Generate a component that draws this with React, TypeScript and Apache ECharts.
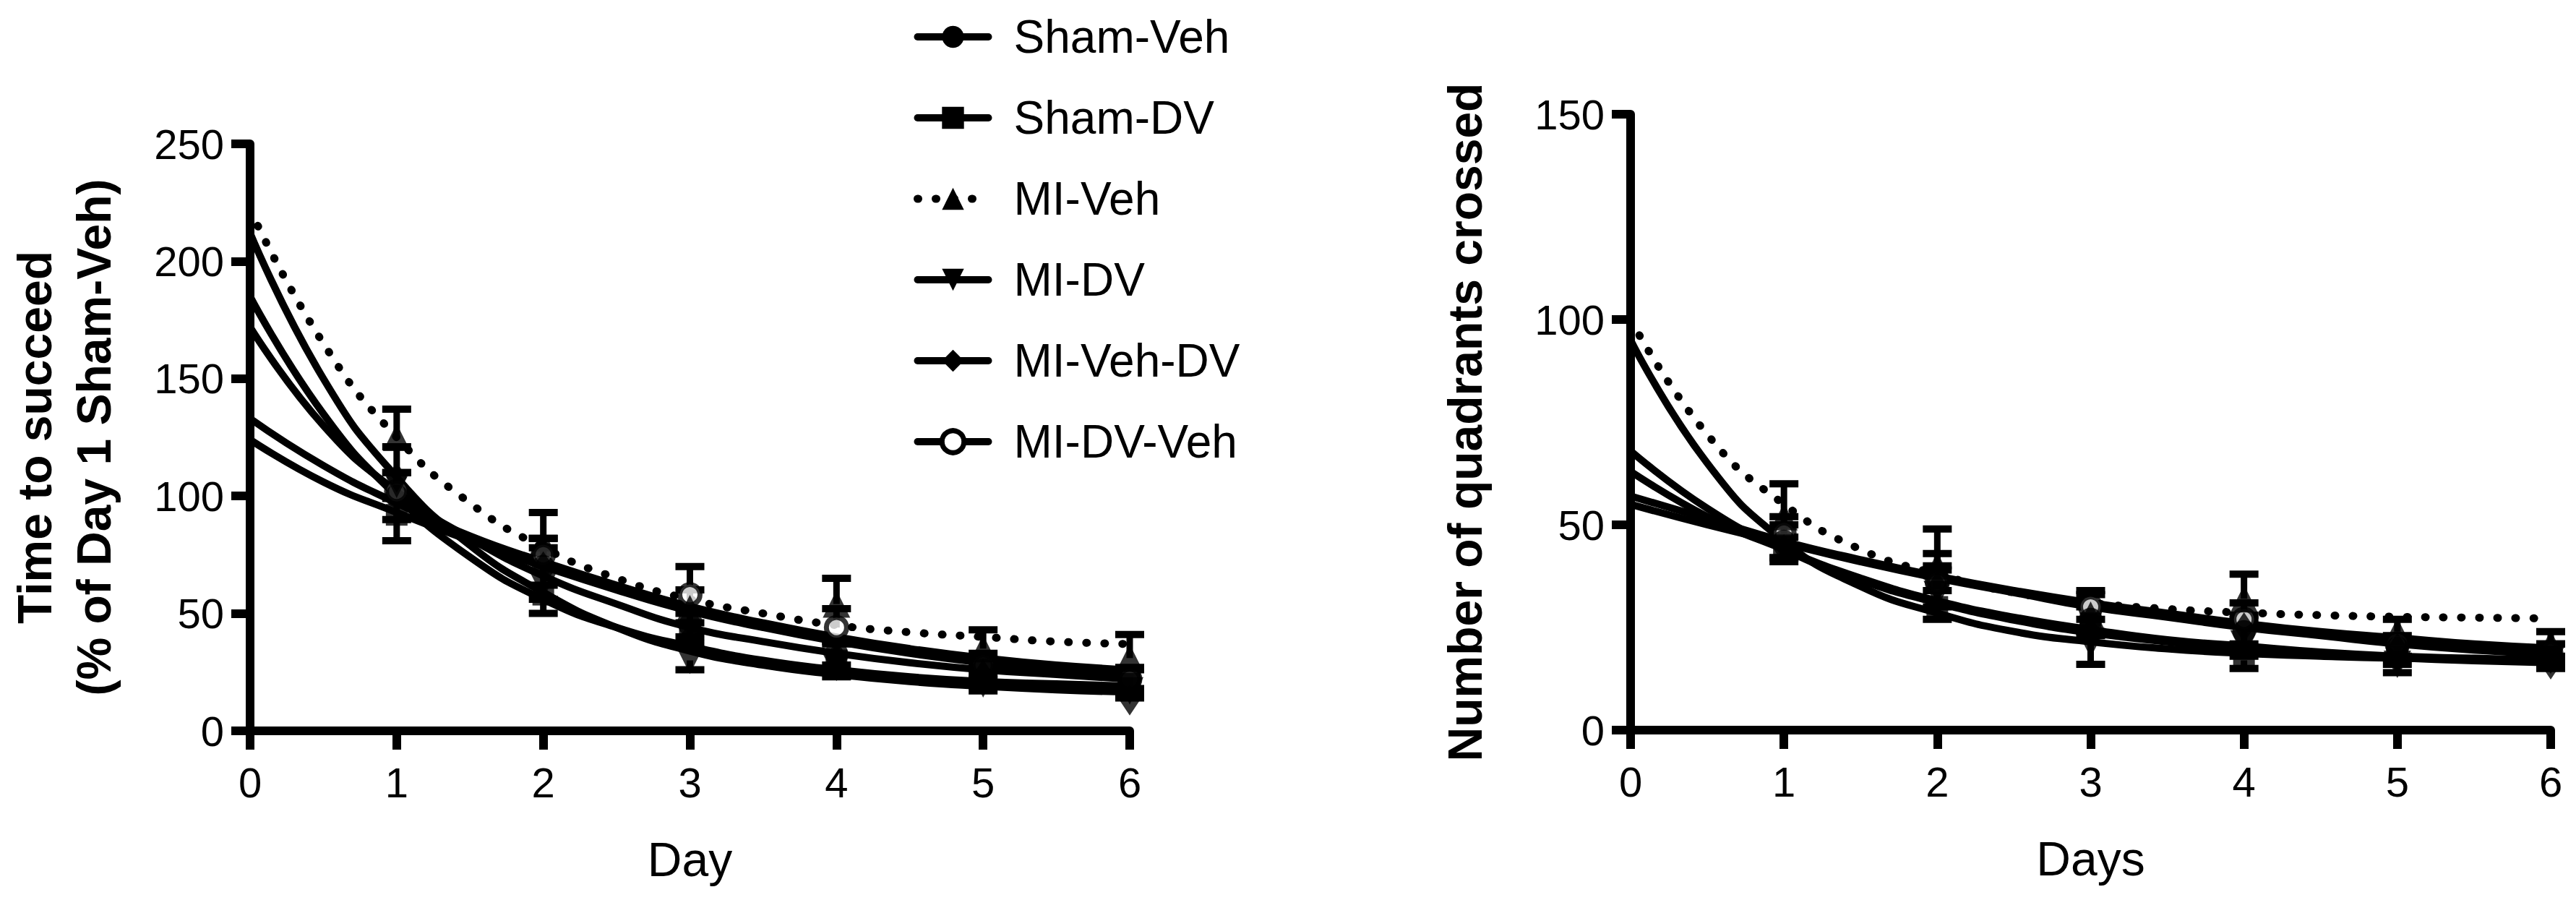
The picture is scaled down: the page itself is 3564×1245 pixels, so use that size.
import React, { useEffect, useRef } from "react";
import * as echarts from "echarts";

// ---------- data ----------
const groups = ["Sham-Veh", "Sham-DV", "MI-Veh", "MI-DV", "MI-Veh-DV", "MI-DV-Veh"];
const days = [1, 2, 3, 4, 5, 6];
const fitDays = [0, 0.5, 1, 1.5, 2, 2.5, 3, 3.5, 4, 4.5, 5, 5.5, 6];

// Left panel: Time to succeed (% of Day 1 Sham-Veh)
const timeShamVeh = [100, 70, 45, 33, 26, 22];
const timeShamVehSem = [10, 8, 5, 5, 4, 4];
const timeShamVehFit = [172, 130, 102, 82, 66, 54, 44, 38, 33, 29, 26, 24, 22];
const timeShamDV = [92, 58, 42, 30, 28, 20];
const timeShamDVSem = [11, 8, 5, 5, 4, 4];
const timeShamDVFit = [124, 106, 93, 81, 70, 60, 51, 44, 38, 33, 29, 26, 24];
const timeMIVeh = [125, 80, 52, 54, 35, 31];
const timeMIVehSem = [12, 13, 8, 11, 8, 10];
const timeMIVehFit = [222, 165, 125, 97, 78, 65, 56, 50, 45, 42, 40, 38, 37];
const timeMIDV = [105, 62, 30, 27, 20, 17];
const timeMIDVSem = [6, 6, 4, 4, 3, 3];
const timeMIDVFit = [212, 150, 108, 79, 59, 44, 34, 28, 24, 21, 19, 17.5, 16.5];
const timeMIVehDV = [108, 70, 40, 32, 24, 13];
const timeMIVehDVSem = [13, 12, 6, 5, 4, 3];
const timeMIVehDVFit = [185, 135, 100, 74, 56, 44, 36, 30, 26, 23, 21, 20, 19];
const timeMIDVVeh = [102, 75, 58, 44, 28, 22];
const timeMIDVVehSem = [8, 7, 12, 8, 5, 5];
const timeMIDVVehFit = [133, 113, 97, 83, 72, 62, 53, 46, 40, 35, 31, 28, 26];

// Right panel: Number of quadrants crossed
const quadShamVeh = [46, 37, 27, 24, 20, 19];
const quadShamVehSem = [4, 3, 3, 3, 2, 2];
const quadShamVehFit = [55, 50, 45.5, 41, 37, 33.5, 30, 27.5, 25, 23, 21, 19.5, 18.5];
const quadShamDV = [45, 30, 26, 17, 18, 18];
const quadShamDVSem = [3, 3, 3, 2, 2, 2];
const quadShamDVFit = [68, 54, 44, 36.5, 31, 26.8, 23.7, 21.5, 19.8, 18.5, 17.6, 16.9, 16.4];
const quadMIVeh = [52, 40, 28, 32, 24, 21];
const quadMIVehSem = [8, 9, 5, 6, 3, 3];
const quadMIVehFit = [100, 72, 55, 44, 38, 33.5, 31, 29.5, 28.6, 28, 27.6, 27.4, 27.2];
const quadMIDV = [44, 33, 21, 21, 16, 17];
const quadMIDVSem = [3, 3, 5, 3, 2, 2];
const quadMIDVFit = [95, 65, 46, 35, 28.5, 24, 21.5, 19.8, 18.7, 18, 17.5, 17.3, 17.2];
const quadMIVehDV = [44, 35, 24, 25, 20, 16];
const quadMIVehDVSem = [3, 4, 3, 3, 2, 2];
const quadMIVehDVFit = [63, 52, 44, 37, 31.5, 27.5, 24.5, 22, 20.5, 19, 18, 17.5, 17];
const quadMIDVVeh = [48, 36, 30, 27, 21, 19];
const quadMIDVVehSem = [4, 7, 4, 4, 2, 2];
const quadMIDVVehFit = [57, 51.5, 46, 41.5, 37.5, 34, 31, 28.5, 26, 24, 22.5, 21, 20];

const timePanel = [
  { name: "Sham-Veh", mean: timeShamVeh, sem: timeShamVehSem, fit: timeShamVehFit },
  { name: "Sham-DV", mean: timeShamDV, sem: timeShamDVSem, fit: timeShamDVFit },
  { name: "MI-Veh", mean: timeMIVeh, sem: timeMIVehSem, fit: timeMIVehFit },
  { name: "MI-DV", mean: timeMIDV, sem: timeMIDVSem, fit: timeMIDVFit },
  { name: "MI-Veh-DV", mean: timeMIVehDV, sem: timeMIVehDVSem, fit: timeMIVehDVFit },
  { name: "MI-DV-Veh", mean: timeMIDVVeh, sem: timeMIDVVehSem, fit: timeMIDVVehFit },
];
const quadPanel = [
  { name: "Sham-Veh", mean: quadShamVeh, sem: quadShamVehSem, fit: quadShamVehFit },
  { name: "Sham-DV", mean: quadShamDV, sem: quadShamDVSem, fit: quadShamDVFit },
  { name: "MI-Veh", mean: quadMIVeh, sem: quadMIVehSem, fit: quadMIVehFit },
  { name: "MI-DV", mean: quadMIDV, sem: quadMIDVSem, fit: quadMIDVFit },
  { name: "MI-Veh-DV", mean: quadMIVehDV, sem: quadMIVehDVSem, fit: quadMIVehDVFit },
  { name: "MI-DV-Veh", mean: quadMIDVVeh, sem: quadMIDVVehSem, fit: quadMIDVVehFit },
];

// ---------- styles ----------
const FONT = '"Liberation Sans", Arial, Helvetica, sans-serif';
const BLACK = "#000";

const groupStyle: Record<string, any> = {
  "Sham-Veh": { symbol: "circle", size: 32, rotate: 0, dir: "both", dotted: false, open: false },
  "Sham-DV": { symbol: "rect", size: 30, rotate: 0, dir: "down", dotted: false, open: false },
  "MI-Veh": { symbol: "triangle", size: 38, rotate: 0, dir: "up", dotted: true, open: false },
  "MI-DV": { symbol: "triangle", size: 38, rotate: 180, dir: "down", dotted: false, open: false },
  "MI-Veh-DV": { symbol: "diamond", size: [28, 42], rotate: 0, dir: "up", dotted: false, open: false },
  "MI-DV-Veh": { symbol: "circle", size: 28, rotate: 0, dir: "up", dotted: false, open: true },
};

function markerStyle(st: any) {
  return st.open
    ? { color: "#fff", borderColor: BLACK, borderWidth: 7 }
    : { color: BLACK };
}

function panelSeries(panel: any[], axisIndex: number) {
  const curves: any[] = [];
  const bars: any[] = [];
  const marks: any[] = [];
  panel.forEach((g) => {
    const st = groupStyle[g.name];
    curves.push({
      type: "line",
      name: g.name,
      xAxisIndex: axisIndex,
      yAxisIndex: axisIndex,
      data: fitDays.map((d, i) => [d, g.fit[i]]),
      smooth: 0.5,
      showSymbol: false,
      symbol: st.symbol,
      symbolRotate: st.rotate,
      symbolSize: st.size,
      lineStyle: {
        color: BLACK,
        width: st.dotted ? 11 : 10,
        type: st.dotted ? [1, 24] : "solid",
        cap: "round",
      },
      itemStyle: markerStyle(st),
      emphasis: { disabled: true },
      silent: true,
      z: 2,
    });
    bars.push({
      type: "custom",
      xAxisIndex: axisIndex,
      yAxisIndex: axisIndex,
      silent: true,
      z: 3,
      encode: { x: 0, y: [1, 2, 3] },
      data: days.map((d, i) => [
        d,
        g.mean[i],
        st.dir === "up" ? g.mean[i] : g.mean[i] - g.sem[i],
        st.dir === "down" ? g.mean[i] : g.mean[i] + g.sem[i],
      ]),
      renderItem: (params: any, api: any) => {
        const x = api.value(0);
        const y = api.value(1);
        const lo = api.value(2);
        const hi = api.value(3);
        const pLo = api.coord([x, lo]);
        const pHi = api.coord([x, hi]);
        const half = 20;
        const children: any[] = [
          {
            type: "line",
            shape: { x1: pLo[0], y1: pLo[1], x2: pHi[0], y2: pHi[1] },
            style: { stroke: BLACK, lineWidth: 9 },
          },
        ];
        if (hi > y)
          children.push({
            type: "line",
            shape: { x1: pHi[0] - half, y1: pHi[1], x2: pHi[0] + half, y2: pHi[1] },
            style: { stroke: BLACK, lineWidth: 10 },
          });
        if (lo < y)
          children.push({
            type: "line",
            shape: { x1: pLo[0] - half, y1: pLo[1], x2: pLo[0] + half, y2: pLo[1] },
            style: { stroke: BLACK, lineWidth: 10 },
          });
        return { type: "group", children };
      },
    });
    marks.push({
      type: "scatter",
      name: g.name,
      xAxisIndex: axisIndex,
      yAxisIndex: axisIndex,
      data: days.map((d, i) => [d, g.mean[i]]),
      symbol: st.symbol,
      symbolRotate: st.rotate,
      symbolSize: st.size,
      itemStyle: markerStyle(st),
      emphasis: { disabled: true },
      silent: true,
      z: st.open ? 4 : 5,
    });
  });
  return [...curves, ...bars, ...marks];
}

function xAxis(gridIndex: number, name: string) {
  return {
    type: "value",
    gridIndex,
    min: 0,
    max: 6,
    interval: 1,
    name,
    nameLocation: "middle",
    nameGap: 178,
    nameMoveOverlap: false,
    nameTextStyle: { fontFamily: FONT, fontSize: 66, color: BLACK, verticalAlign: "middle", align: "center" },
    axisLine: { show: true, onZero: false, lineStyle: { color: BLACK, width: 12 } },
    axisTick: { show: true, inside: false, length: 26, lineStyle: { color: BLACK, width: 12 } },
    axisLabel: { fontFamily: FONT, fontSize: 58, color: BLACK, margin: 42 },
    splitLine: { show: false },
  };
}

function yAxis(gridIndex: number, name: string, max: number, gap: number) {
  return {
    type: "value",
    gridIndex,
    min: 0,
    max,
    interval: 50,
    name,
    nameLocation: "middle",
    nameGap: gap,
    nameRotate: 90,
    nameMoveOverlap: false,
    nameTextStyle: {
      fontFamily: FONT,
      fontSize: 66,
      fontWeight: "bold",
      color: BLACK,
      lineHeight: 82,
      verticalAlign: "middle",
      align: "center",
    },
    axisLine: { show: true, onZero: false, lineStyle: { color: BLACK, width: 12 } },
    axisTick: { show: true, inside: false, length: 26, lineStyle: { color: BLACK, width: 12 } },
    axisLabel: { fontFamily: FONT, fontSize: 58, color: BLACK, margin: 36 },
    splitLine: { show: false },
  };
}

export default function App() {
  const ref = useRef<HTMLDivElement>(null);
  useEffect(() => {
    if (!ref.current) return;
    const chart = echarts.init(ref.current, undefined, { renderer: "svg" });
    chart.setOption({
      animation: false,
      backgroundColor: "#fff",
      textStyle: { fontFamily: FONT },
      grid: [
        { left: 346, top: 199, width: 1217, height: 812, outerBoundsMode: "none", containLabel: false },
        { left: 2256, top: 158, width: 1273, height: 852, outerBoundsMode: "none", containLabel: false },
      ],
      xAxis: [xAxis(0, "Day"), xAxis(1, "Days")],
      yAxis: [
        yAxis(0, "Time to succeed\n(% of Day 1 Sham-Veh)", 250, 257),
        yAxis(1, "Number of quadrants crossed", 150, 229),
      ],
      legend: {
        data: groups,
        orient: "vertical",
        left: 1259,
        top: 12,
        itemWidth: 98,
        itemHeight: 38,
        itemGap: 44,
        selectedMode: false,
        textStyle: { fontFamily: FONT, fontSize: 64, color: BLACK, lineHeight: 68, padding: [0, 0, 0, 30] },
        lineStyle: { width: "inherit", type: "inherit", cap: "inherit" },
        itemStyle: { borderWidth: "inherit", borderColor: "inherit", color: "inherit" },
      },
      series: [...panelSeries(timePanel, 0), ...panelSeries(quadPanel, 1)],
    });
    return () => chart.dispose();
  }, []);
  return (
    <div
      ref={ref}
      style={{ position: "absolute", left: 0, top: 0, width: "3564px", height: "1245px", background: "#fff" }}
    />
  );
}
